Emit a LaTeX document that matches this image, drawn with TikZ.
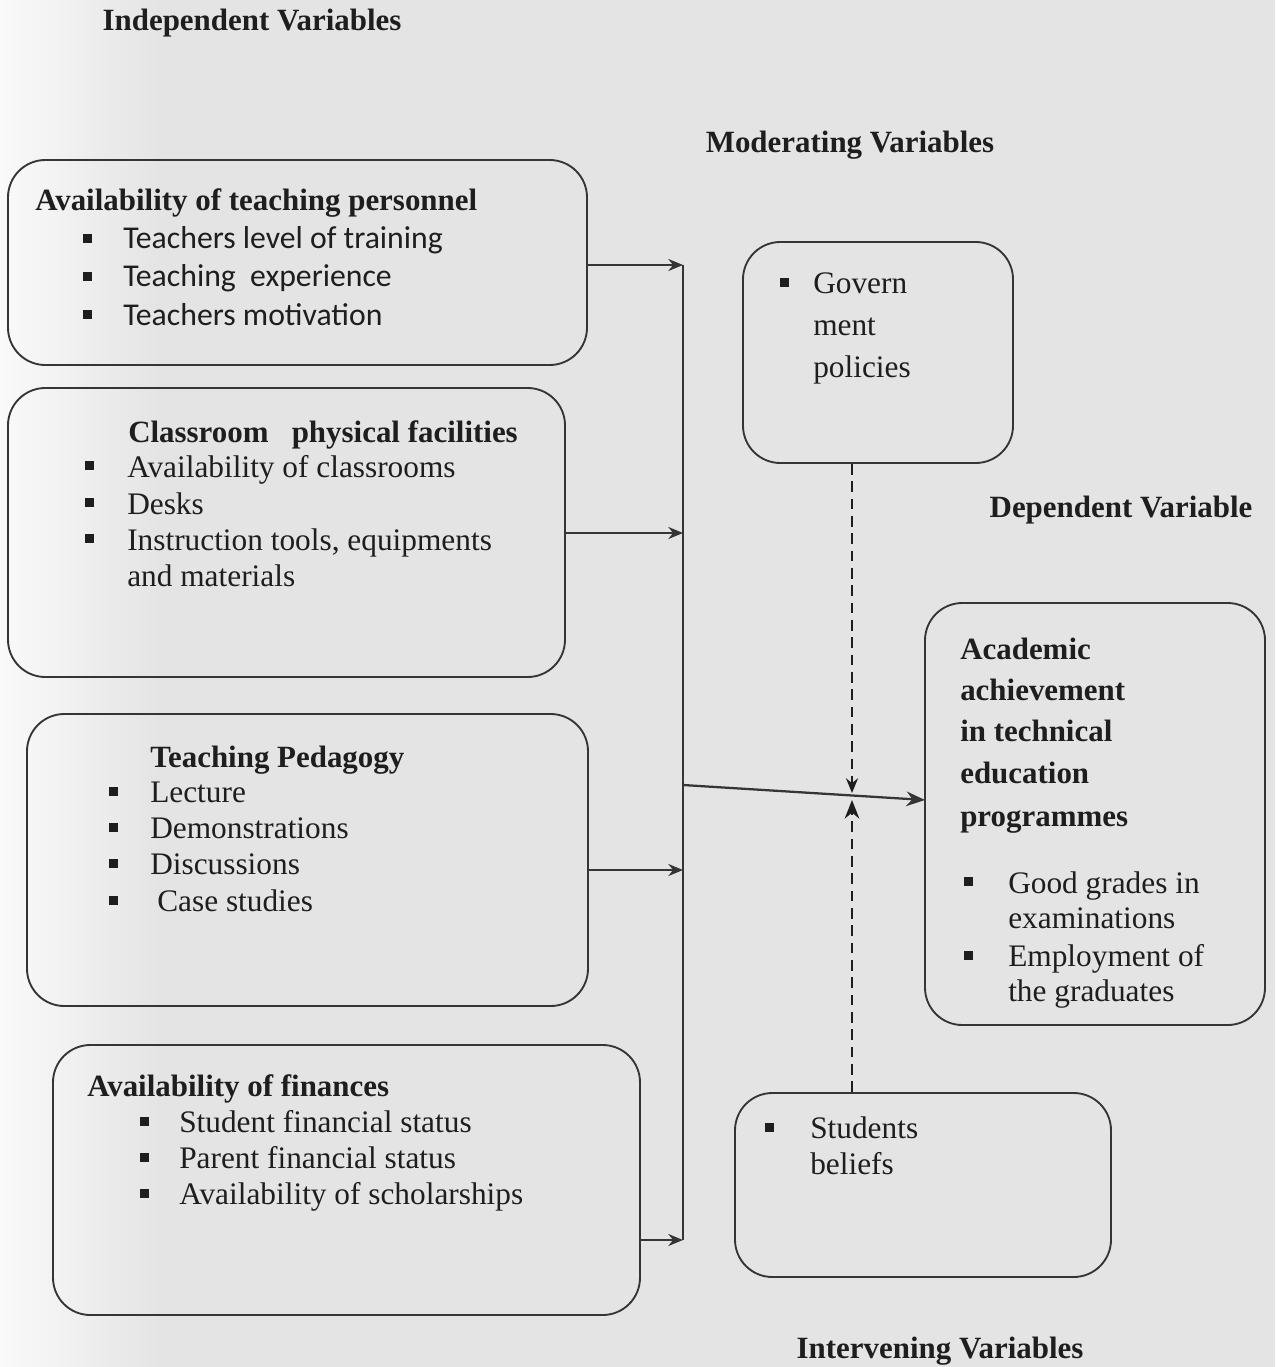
\documentclass[tikz,border=0pt]{standalone}
\usepackage{fontspec}
\setmainfont{Liberation Serif}
\newfontfamily\calfont{Carlito}
\usetikzlibrary{arrows.meta}
\definecolor{bg}{HTML}{E4E4E4}
\definecolor{ink}{HTML}{1E1E1E}
\tikzset{
  box/.style={draw=ink!90, line width=1.4pt, rounded corners=28pt, inner sep=0pt},
  conn/.style={draw=ink!90, line width=1.7pt},
  tipS/.style={-{Stealth[length=11pt,width=9pt]}},
  tipL/.style={-{Stealth[length=14pt,width=11pt]}},
  dsh/.style={draw=ink, line width=1.7pt, dash pattern=on 8pt off 5pt},
  txt/.style={anchor=base west, inner sep=0pt, text=ink, font=\fontsize{23.5}{28}\selectfont},
  ttl/.style={anchor=base west, inner sep=0pt, text=ink, font=\fontsize{23.2}{28}\selectfont\bfseries},
  head/.style={anchor=base, inner sep=0pt, text=ink, font=\fontsize{23.2}{28}\selectfont\bfseries},
  ctxt/.style={anchor=base west, inner sep=0pt, text=ink, font=\fontsize{23.8}{28}\selectfont\calfont},
}
\newcommand{\bul}[2]{\fill[ink] (#1-4.5,#2-4.5) rectangle (#1+4.5,#2+4.5);}
\begin{document}
\begin{tikzpicture}[x=0.75pt,y=-0.75pt]
\fill[bg] (0,0) rectangle (1275,1367);
\shade[left color=gray!4, right color=bg] (0,0) rectangle (160,1367);
\useasboundingbox (0,0) rectangle (1275,1367);

% headings
\node[head] (hInd) at (252,31) {Independent Variables};
\node[head] (hMod) at (850,152) {Moderating Variables};
\node[head] (hDep) at (1121,517) {Dependent Variable};
\node[head] (hInt) at (940,1358) {Intervening Variables};

% boxes
\node[box, minimum width=579*0.75pt, minimum height=205*0.75pt] (A) at (297.5,262.5) {};
\node[box, minimum width=557*0.75pt, minimum height=289*0.75pt] (B) at (286.5,532.5) {};
\node[box, minimum width=561*0.75pt, minimum height=292*0.75pt] (C) at (307.5,860) {};
\node[box, minimum width=587*0.75pt, minimum height=270*0.75pt] (D) at (346.5,1180) {};
\node[box, minimum width=270*0.75pt, minimum height=221*0.75pt] (M) at (878,352.5) {};
\node[box, minimum width=340*0.75pt, minimum height=422*0.75pt] (Dep) at (1095,814) {};
\node[box, minimum width=376*0.75pt, minimum height=184*0.75pt] (I) at (923,1185) {};

% Box A text
\node[ttl] (a0) at (35,210) {Availability of teaching personnel};
\bul{87}{238}\node[ctxt] (a1) at (123,248) {Teachers level of training};
\bul{87}{276}\node[ctxt] (a2) at (123,286) {Teaching\ \ experience};
\bul{87}{314}\node[ctxt] (a3) at (123,325) {Teachers motivation};

% Box B text
\node[ttl] (b0) at (128,442) {Classroom\ \ \ physical facilities};
\bul{89}{465}\node[txt] (b1) at (127,477) {Availability of classrooms};
\bul{89}{502}\node[txt] (b2) at (127,514) {Desks};
\bul{89}{538}\node[txt] (b3) at (127,550) {Instruction tools, equipments};
\node[txt] (b4) at (127,586) {and materials};

% Box C text
\node[ttl] (c0) at (150,767) {Teaching Pedagogy};
\bul{113}{791}\node[txt] (c1) at (150,802) {Lecture};
\bul{113}{827}\node[txt] (c2) at (150,838) {Demonstrations};
\bul{113}{863}\node[txt] (c3) at (150,874) {Discussions};
\bul{113}{900}\node[txt] (c4) at (157,911) {Case studies};

% Box D text
\node[ttl] (d0) at (87,1096) {Availability of finances};
\bul{144}{1121}\node[txt] (d1) at (179,1132) {Student financial status};
\bul{144}{1157}\node[txt] (d2) at (179,1168) {Parent financial status};
\bul{144}{1193}\node[txt] (d3) at (179,1204) {Availability of scholarships};

% Box M text
\bul{784}{282}\node[txt] (m1) at (813,293) {Govern};
\node[txt] (m2) at (813,335) {ment};
\node[txt] (m3) at (813,377) {policies};

% Dependent box text
\node[ttl] (e0) at (960,659) {Academic};
\node[ttl] (e1) at (960,700) {achievement};
\node[ttl] (e2) at (960,741) {in technical};
\node[ttl] (e3) at (960,783) {education};
\node[ttl] (e4) at (960,826) {programmes};
\bul{968}{881}\node[txt] (e5) at (1008,893) {Good grades in};
\node[txt] (e6) at (1008,928) {examinations};
\bul{968}{955}\node[txt] (e7) at (1008,966) {Employment of};
\node[txt] (e8) at (1008,1001) {the graduates};

% Box I text
\bul{769}{1127}\node[txt] (i1) at (810,1138) {Students};
\node[txt] (i2) at (810,1174) {beliefs};

% connectors
\coordinate (busA) at (683,265);
\coordinate (busB) at (683,533);
\coordinate (busC) at (683,870);
\coordinate (busD) at (683,1240);
\coordinate (busM) at (683,785);
\coordinate (depIn) at (925,800);
\coordinate (meetT) at (852,793);
\coordinate (meetB) at (852,800);

\draw[conn] (busA) -- (busD);
\draw[conn,tipS] (A.east |- busA) -- (busA);
\draw[conn,tipS] (B.east |- busB) -- (busB);
\draw[conn,tipS] (C.east |- busC) -- (busC);
\draw[conn,tipS] (D.east |- busD) -- (busD);
\draw[conn,tipL] (busM) -- (depIn);
\draw[dsh,tipS] (M.south -| meetT) -- (meetT);
\draw[dsh,tipL] (I.north -| meetB) -- (meetB);
\end{tikzpicture}
\end{document}
